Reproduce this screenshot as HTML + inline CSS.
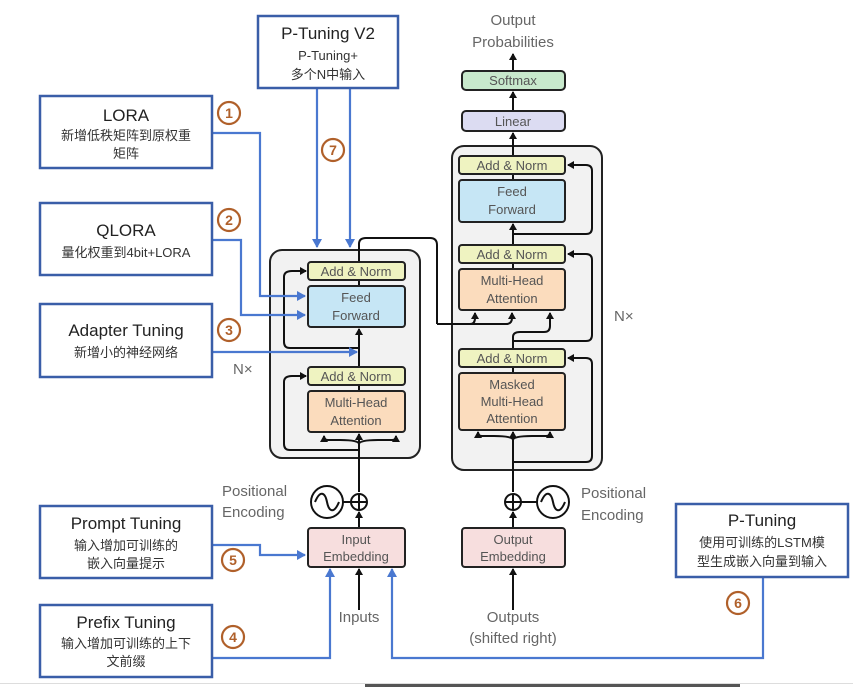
<!DOCTYPE html>
<html><head><meta charset="utf-8"><style>
html,body{margin:0;padding:0;background:#fff;}
svg{display:block;}
text{font-family:"Liberation Sans","Noto Sans CJK SC",sans-serif;}
.t{font-size:13px;fill:#555;text-anchor:middle;}
.g{font-size:15px;fill:#666;}
.bt{font-size:17px;fill:#222;text-anchor:middle;}
.bs{font-size:13px;fill:#333;text-anchor:middle;}
.num{font-size:14px;font-weight:bold;fill:#b0602a;text-anchor:middle;}
</style></head><body>
<svg width="853" height="687" viewBox="0 0 853 687" xmlns="http://www.w3.org/2000/svg">
<defs>
<marker id="ak" markerWidth="8" markerHeight="8" refX="6" refY="4" orient="auto" markerUnits="userSpaceOnUse"><path d="M0,0 L7,4 L0,8 z" fill="#111"/></marker>
<marker id="ab" markerWidth="10" markerHeight="10" refX="8" refY="5" orient="auto" markerUnits="userSpaceOnUse"><path d="M0,0 L9,5 L0,10 z" fill="#4a78d0"/></marker>
</defs>

<rect x="270" y="250" width="150" height="208" rx="12" fill="#f2f2f2" stroke="#222" stroke-width="2"/>
<rect x="452" y="146" width="150" height="324" rx="12" fill="#f2f2f2" stroke="#222" stroke-width="2"/>

<g fill="none" stroke="#111" stroke-width="2">
<path d="M359,567 L359,512" marker-end="url(#ak)"/>
<path d="M359,492 L359,434" marker-end="url(#ak)"/>
<path d="M359,444 Q359,440 340,440 L328,440 Q324,440 324,436" marker-end="url(#ak)"/>
<path d="M359,444 Q359,440 378,440 L392,440 Q396,440 396,436" marker-end="url(#ak)"/>
<path d="M359,450 L290,450 Q284,450 284,444 L284,382 Q284,376 292,376 L306,376" marker-end="url(#ak)"/>
<path d="M359,367 L359,329" marker-end="url(#ak)"/>
<path d="M359,348 L290,348 Q284,348 284,342 L284,277 Q284,271 292,271 L306,271" marker-end="url(#ak)"/>
<path d="M359,286 L359,280"/>
<path d="M359,385 L359,391"/>
<path d="M359,262 L359,244 Q359,238 366,238 L430,238 Q437,238 437,245 L437,324"/>
<path d="M437,324 L470,324 Q475,324 475,318 L475,313" marker-end="url(#ak)"/>
<path d="M470,324 L506,324 Q512,324 512,318 L512,313" marker-end="url(#ak)"/>
<path d="M513,567 L513,512" marker-end="url(#ak)"/>
<path d="M513,492 L513,432" marker-end="url(#ak)"/>
<path d="M513,440 Q513,436 494,436 L482,436 Q478,436 478,432" marker-end="url(#ak)"/>
<path d="M513,440 Q513,436 532,436 L546,436 Q550,436 550,432" marker-end="url(#ak)"/>
<path d="M513,462 L586,462 Q592,462 592,456 L592,364 Q592,358 586,358 L568,358" marker-end="url(#ak)"/>
<path d="M513,349 L513,337 Q513,332 520,332 L544,332 Q550,332 550,326 L550,313" marker-end="url(#ak)"/>
<path d="M513,341 L586,341 Q592,341 592,335 L592,260 Q592,254 586,254 L568,254" marker-end="url(#ak)"/>
<path d="M513,367 L513,373"/>
<path d="M513,263 L513,269"/>
<path d="M513,245 L513,224" marker-end="url(#ak)"/>
<path d="M513,234 L586,234 Q592,234 592,228 L592,171 Q592,165 586,165 L568,165" marker-end="url(#ak)"/>
<path d="M513,174 L513,180"/>
<path d="M513,156 L513,133" marker-end="url(#ak)"/>
<path d="M513,111 L513,92" marker-end="url(#ak)"/>
<path d="M513,71 L513,54" marker-end="url(#ak)"/>
<path d="M359,610 L359,569" marker-end="url(#ak)"/>
<path d="M513,610 L513,569" marker-end="url(#ak)"/>
<circle cx="359" cy="502" r="8"/><path d="M351,502 H367 M359,494 V510"/>
<circle cx="513" cy="502" r="8"/><path d="M505,502 H521 M513,494 V510"/>
<circle cx="327" cy="502" r="16"/><path d="M343,502 H351"/>
<path d="M315,502 C320,490 325,492 327,502 C329,512 334,514 339,502"/>
<circle cx="553" cy="502" r="16"/><path d="M521,502 H537"/>
<path d="M541,502 C546,490 551,492 553,502 C555,512 560,514 565,502"/>
</g>

<g stroke="#222" stroke-width="2">
<rect x="308" y="262" width="97" height="18" rx="3" fill="#eff3c1"/>
<rect x="308" y="286" width="97" height="41" rx="3" fill="#c6e6f5"/>
<rect x="308" y="367" width="97" height="18" rx="3" fill="#eff3c1"/>
<rect x="308" y="391" width="97" height="41" rx="3" fill="#fbdcbd"/>
<rect x="459" y="156" width="106" height="18" rx="3" fill="#eff3c1"/>
<rect x="459" y="180" width="106" height="42" rx="3" fill="#c6e6f5"/>
<rect x="459" y="245" width="106" height="18" rx="3" fill="#eff3c1"/>
<rect x="459" y="269" width="106" height="41" rx="3" fill="#fbdcbd"/>
<rect x="459" y="349" width="106" height="18" rx="3" fill="#eff3c1"/>
<rect x="459" y="373" width="106" height="57" rx="3" fill="#fbdcbd"/>
<rect x="462" y="111" width="103" height="20" rx="4" fill="#dcdcf2"/>
<rect x="462" y="71" width="103" height="19" rx="4" fill="#c8e9cc"/>
<rect x="308" y="528" width="97" height="39" rx="3" fill="#f7dede"/>
<rect x="462" y="528" width="103" height="39" rx="3" fill="#f7dede"/>
</g>
<g class="t">
<text x="356" y="276">Add &amp; Norm</text>
<text x="356" y="302">Feed</text><text x="356" y="320">Forward</text>
<text x="356" y="381">Add &amp; Norm</text>
<text x="356" y="407">Multi-Head</text><text x="356" y="425">Attention</text>
<text x="512" y="170">Add &amp; Norm</text>
<text x="512" y="196">Feed</text><text x="512" y="214">Forward</text>
<text x="512" y="259">Add &amp; Norm</text>
<text x="512" y="285">Multi-Head</text><text x="512" y="303">Attention</text>
<text x="512" y="363">Add &amp; Norm</text>
<text x="512" y="389">Masked</text><text x="512" y="406">Multi-Head</text><text x="512" y="423">Attention</text>
<text x="513" y="126">Linear</text>
<text x="513" y="85">Softmax</text>
<text x="356" y="544">Input</text><text x="356" y="561">Embedding</text>
<text x="513" y="544">Output</text><text x="513" y="561">Embedding</text>
</g>
<g class="g">
<text x="513" y="25" text-anchor="middle">Output</text>
<text x="513" y="47" text-anchor="middle">Probabilities</text>
<text x="222" y="496">Positional</text><text x="222" y="517">Encoding</text>
<text x="581" y="498">Positional</text><text x="581" y="520">Encoding</text>
<text x="359" y="622" text-anchor="middle">Inputs</text>
<text x="513" y="622" text-anchor="middle">Outputs</text>
<text x="513" y="643" text-anchor="middle">(shifted right)</text>
<text x="233" y="374">N×</text>
<text x="614" y="321">N×</text>
</g>

<g fill="none" stroke="#4a78d0" stroke-width="2.2">
<path d="M212,133 L260,133 L260,296 L305,296" marker-end="url(#ab)"/>
<path d="M212,240 L241,240 L241,315 L305,315" marker-end="url(#ab)"/>
<path d="M212,352 L357,352" marker-end="url(#ab)"/>
<path d="M317,88 L317,247" marker-end="url(#ab)"/>
<path d="M350,88 L350,247" marker-end="url(#ab)"/>
<path d="M212,545 L260,545 L260,555 L305,555" marker-end="url(#ab)"/>
<path d="M212,658 L330,658 L330,569" marker-end="url(#ab)"/>
<path d="M763,577 L763,658 L392,658 L392,569" marker-end="url(#ab)"/>
</g>

<g fill="#fff" stroke="#3a5ea8" stroke-width="2.5">
<rect x="258" y="16" width="140" height="72"/>
<rect x="40" y="96" width="172" height="72"/>
<rect x="40" y="203" width="172" height="72"/>
<rect x="40" y="304" width="172" height="73"/>
<rect x="40" y="506" width="172" height="72"/>
<rect x="40" y="605" width="172" height="72"/>
<rect x="676" y="504" width="172" height="73"/>
</g>
<text class="bt" x="328" y="39">P-Tuning V2</text>
<text class="bs" x="328" y="60">P-Tuning+</text>
<text class="bs" x="328" y="79">多个N中输入</text>
<text class="bt" x="126" y="121">LORA</text>
<text class="bs" x="126" y="140">新增低秩矩阵到原权重</text>
<text class="bs" x="126" y="158">矩阵</text>
<text class="bt" x="126" y="236">QLORA</text>
<text class="bs" x="126" y="257">量化权重到4bit+LORA</text>
<text class="bt" x="126" y="336">Adapter Tuning</text>
<text class="bs" x="126" y="357">新增小的神经网络</text>
<text class="bt" x="126" y="529">Prompt Tuning</text>
<text class="bs" x="126" y="550">输入增加可训练的</text>
<text class="bs" x="126" y="568">嵌入向量提示</text>
<text class="bt" x="126" y="628">Prefix Tuning</text>
<text class="bs" x="126" y="648">输入增加可训练的上下</text>
<text class="bs" x="126" y="666">文前缀</text>
<text class="bt" x="762" y="526">P-Tuning</text>
<text class="bs" x="762" y="547">使用可训练的LSTM模</text>
<text class="bs" x="762" y="566">型生成嵌入向量到输入</text>

<g fill="none" stroke="#b0602a" stroke-width="2.2">
<circle cx="229" cy="113" r="11"/><circle cx="229" cy="220" r="11"/>
<circle cx="229" cy="330" r="11"/><circle cx="233" cy="560" r="11"/>
<circle cx="233" cy="637" r="11"/><circle cx="738" cy="603" r="11"/>
<circle cx="333" cy="150" r="11"/>
</g>
<g class="num">
<text x="229" y="118">1</text><text x="229" y="225">2</text><text x="229" y="335">3</text>
<text x="233" y="565">5</text><text x="233" y="642">4</text><text x="738" y="608">6</text>
<text x="333" y="155">7</text>
</g>

<rect x="0" y="683" width="853" height="1" fill="#ddd"/>
<rect x="365" y="684" width="375" height="3" fill="#555"/>
</svg>
</body></html>
